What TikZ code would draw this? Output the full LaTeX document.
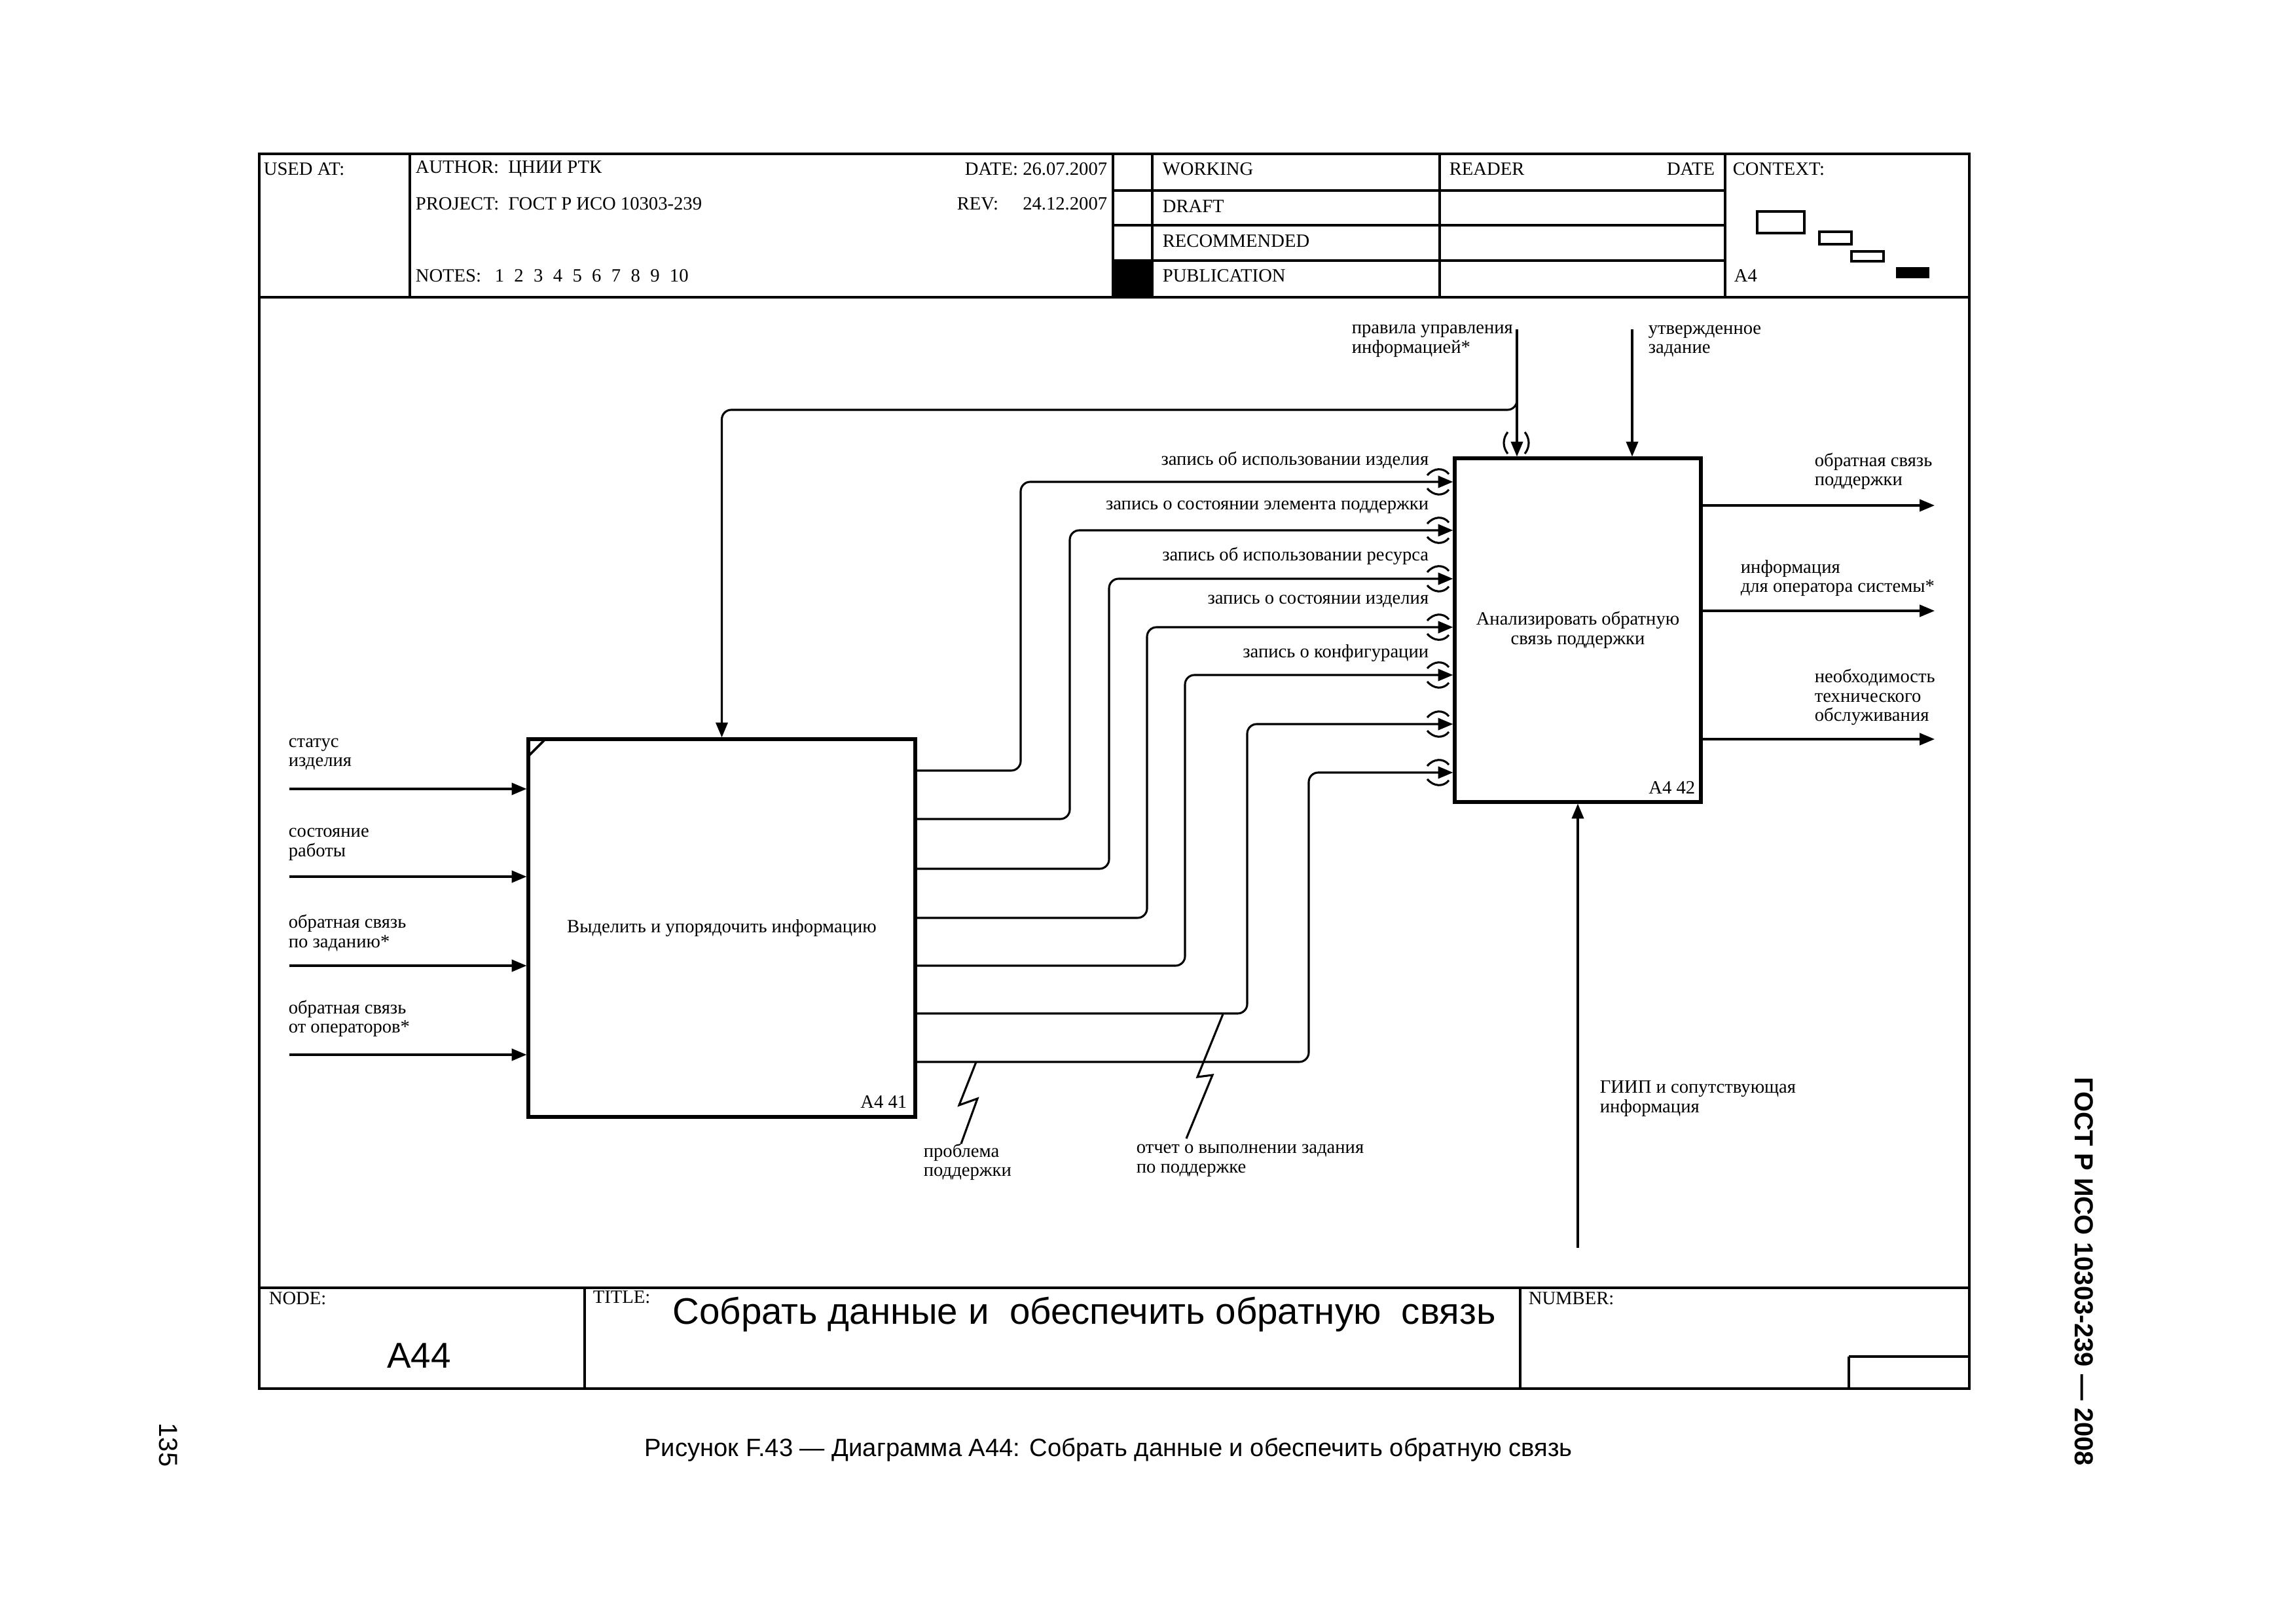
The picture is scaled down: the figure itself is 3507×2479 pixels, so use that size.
\documentclass[tikz,border=0pt]{standalone}
\usepackage{fontspec}
\setmainfont{Liberation Serif}
\setsansfont{Liberation Sans}
\usetikzlibrary{arrows.meta}
\newcommand\lblf{\fontsize{6.9}{7.1}\selectfont}
\newcommand\hdrf{\fontsize{6.9}{7}\selectfont}
\begin{document}
\begin{tikzpicture}[x=0.2409pt,y=-0.2409pt,
  frame/.style={line width=1.1pt},
  thinln/.style={line width=0.8pt},
  box/.style={draw,line width=1.25pt,inner sep=0pt,align=center,font=\lblf},
  arr/.style={line width=0.75pt,-{Triangle[length=5.5pt,width=4.4pt]},rounded corners=3.5pt},
  wire/.style={line width=0.75pt},
  tun/.style={line width=0.75pt},
  lbl/.style={inner sep=0pt,font=\lblf,align=left},
  hdr/.style={inner sep=0pt,font=\hdrf},
]
\useasboundingbox (0,0) rectangle (3507,2479);
% ---------- frame ----------
\draw[frame] (396,235) rectangle (3008,2121);
\draw[frame] (396,454) -- (3008,454);
\draw[frame] (396,1967) -- (3008,1967);
\draw[thinln] (626,235) -- (626,454);
\draw[thinln] (1700,235) -- (1700,454);
\draw[thinln] (1760,235) -- (1760,454);
\draw[thinln] (2199,235) -- (2199,454);
\draw[thinln] (2635,235) -- (2635,454);
\draw[thinln] (1700,291) -- (2635,291);
\draw[thinln] (1700,344) -- (2635,344);
\draw[thinln] (1700,398) -- (2635,398);
\fill (1700,398) rectangle (1760,454);
% header texts
\node[hdr,anchor=west] (usedat) at (402,258) {USED AT:};
\node[hdr,anchor=west] (author) at (634,258) {AUTHOR:\ \ ЦНИИ РТК};
\node[hdr,anchor=east] (date) at (1692,258) {DATE:\ 26.07.2007};
\node[hdr,anchor=west] (project) at (634,311) {PROJECT:\ \ ГОСТ Р ИСО 10303-239};
\node[hdr,anchor=west] (revl) at (1461,311) {REV:};
\node[hdr,anchor=east] (rev) at (1692,311) {24.12.2007};
\node[hdr,anchor=west] (notes) at (634,421) {NOTES:\hspace{5pt}1\hspace{3.7pt}2\hspace{3.7pt}3\hspace{3.7pt}4\hspace{3.7pt}5\hspace{3.7pt}6\hspace{3.7pt}7\hspace{3.7pt}8\hspace{3.7pt}9\hspace{3.7pt}10};
\node[hdr,anchor=west] (working) at (1775,258) {WORKING};
\node[hdr,anchor=west] (draft) at (1775,315) {DRAFT};
\node[hdr,anchor=west] (recom) at (1775,368) {RECOMMENDED};
\node[hdr,anchor=west] (publ) at (1775,421) {PUBLICATION};
\node[hdr,anchor=west] (reader) at (2213,258) {READER};
\node[hdr,anchor=east] (rdate) at (2620,258) {DATE};
\node[hdr,anchor=west] (context) at (2646,258) {CONTEXT:};
\node[hdr,anchor=west] (ctxa) at (2648,421) {A4};
\draw[thinln] (2684,323) rectangle (2756,356);
\draw[thinln] (2779,354) rectangle (2828,373);
\draw[thinln] (2828,384) rectangle (2877,399);
\fill (2896,408) rectangle (2947,425);
% ---------- footer ----------
\draw[thinln] (893,1967) -- (893,2121);
\draw[thinln] (2322,1967) -- (2322,2121);
\draw[frame] (2824,2072) -- (3008,2072);
\draw[thinln] (2824,2072) -- (2824,2121);
\node[hdr,anchor=west] (nodel) at (410,1983) {NODE:};
\node[hdr,anchor=west] (titlel) at (905,1981) {TITLE:};
\node[hdr,anchor=west] (numberl) at (2334,1983) {NUMBER:};
\node[inner sep=0pt,font=\sffamily\fontsize{13.2}{13}\selectfont] (nodeid) at (640,2071) {A44};
\node[inner sep=0pt,anchor=west,font=\sffamily\fontsize{13.6}{14}\selectfont] (title) at (1027,2008) {Собрать данные и\ \ обеспечить обратную\ \ связь};
% ---------- outside page text ----------
\node[inner sep=0pt,font=\sffamily\fontsize{9.2}{10}\selectfont] (caption) at (1693,2214) {Рисунок F.43 — Диаграмма А44: Собрать данные и обеспечить обратную связь};
\node[inner sep=0pt,rotate=-90,font=\sffamily\bfseries\fontsize{9.6}{10}\selectfont] (gost) at (3183,1942) {ГОСТ Р ИСО 10303-239 — 2008};
\node[inner sep=0pt,rotate=-90,font=\sffamily\fontsize{9.6}{10}\selectfont] (pageno) at (257,2207) {135};
% ---------- boxes ----------
\node[box,minimum width=142.37pt,minimum height=139.0pt] (b1) at (1102.5,1417.5) {Выделить и упорядочить информацию};
\node[box,minimum width=90.58pt,minimum height=126.47pt] (b2) at (2410,962.5) {Анализировать обратную\\связь поддержки};
\node[lbl,anchor=east] (b1id) at (1386,1683) {A4 41};
\node[lbl,anchor=east] (b2id) at (2590,1203) {A4 42};
\draw[line width=0.9pt] (807,1155) -- (831,1131);
% ---------- inputs of b1 ----------
\coordinate (i1) at (442,1205);
\coordinate (i2) at (442,1339);
\coordinate (i3) at (442,1475);
\coordinate (i4) at (442,1611);
\draw[arr] (i1) -- (i1 -| b1.west);
\draw[arr] (i2) -- (i2 -| b1.west);
\draw[arr] (i3) -- (i3 -| b1.west);
\draw[arr] (i4) -- (i4 -| b1.west);
\node[lbl,anchor=west] (li1) at (440,1152) {статус\\изделия};
\node[lbl,anchor=west] (li2) at (440,1290) {состояние\\работы};
\node[lbl,anchor=west] (li3) at (440,1425) {обратная связь\\по заданию*};
\node[lbl,anchor=west] (li4) at (440,1556) {обратная связь\\от операторов*};
% ---------- controls ----------
\coordinate (c1) at (2317,503);
\coordinate (c2) at (2493,503);
\draw[arr] (c1) -- (c1 |- b2.north);
\draw[arr] (c2) -- (c2 |- b2.north);
\draw[arr] (2317,590) -- (2317,626) -- (1102.5,626) -- (b1.north);
\node[lbl,anchor=west] (lc1) at (2064,521) {правила управления\\информацией*};
\node[lbl,anchor=west] (lc2) at (2517,521) {утвержденное\\задание};
\draw[tun] (2303,660) .. controls (2295,670) and (2295,683) .. (2303,693);
\draw[tun] (2329,660) .. controls (2337,670) and (2337,683) .. (2329,693);
% ---------- b1 -> b2 flows ----------
\draw[arr] (b1.east |- 0,1177) -- (1559,1177) -- (1559,736) -- (b2.west |- 0,736);
\draw[arr] (b1.east |- 0,1251) -- (1634,1251) -- (1634,810) -- (b2.west |- 0,810);
\draw[arr] (b1.east |- 0,1327) -- (1694,1327) -- (1694,884) -- (b2.west |- 0,884);
\draw[arr] (b1.east |- 0,1402) -- (1752,1402) -- (1752,958) -- (b2.west |- 0,958);
\draw[arr] (b1.east |- 0,1475) -- (1810,1475) -- (1810,1031) -- (b2.west |- 0,1031);
\draw[arr] (b1.east |- 0,1548) -- (1905,1548) -- (1905,1106) -- (b2.west |- 0,1106);
\draw[arr] (b1.east |- 0,1622) -- (1999,1622) -- (1999,1180) -- (b2.west |- 0,1180);
\foreach \yy in {736,810,884,958,1031,1106,1180}{
  \draw[tun] (2180,\yy-10) .. controls (2190,\yy-22) and (2205,\yy-22) .. (2213,\yy-12);
  \draw[tun] (2180,\yy+10) .. controls (2190,\yy+22) and (2205,\yy+22) .. (2213,\yy+12);
}
\node[lbl,anchor=east] (lf1) at (2183,703) {запись об использовании изделия};
\node[lbl,anchor=east] (lf2) at (2183,775) {запись о состоянии элемента поддержки};
\node[lbl,anchor=east] (lf3) at (2183,849) {запись об использовании ресурса};
\node[lbl,anchor=east] (lf4) at (2183,919) {запись о состоянии изделия};
\node[lbl,anchor=east] (lf5) at (2183,998) {запись о конфигурации};
% squiggles
\draw[wire] (1491,1622) -- (1465,1688) -- (1493,1678) -- (1468,1747);
\draw[wire] (1868,1549) -- (1829,1645) -- (1852,1642) -- (1812,1739);
\node[lbl,anchor=west] (lp1) at (1410,1775) {проблема\\поддержки};
\node[lbl,anchor=west] (lp2) at (1735,1773) {отчет о выполнении задания\\по поддержке};
% ---------- outputs of b2 ----------
\coordinate (o1) at (2955,772);
\coordinate (o2) at (2955,933);
\coordinate (o3) at (2955,1129);
\draw[arr] (o1 -| b2.east) -- (o1);
\draw[arr] (o2 -| b2.east) -- (o2);
\draw[arr] (o3 -| b2.east) -- (o3);
\node[lbl,anchor=west] (lo1) at (2771,720) {обратная связь\\поддержки};
\node[lbl,anchor=west] (lo2) at (2658,883) {информация\\для оператора системы*};
\node[lbl,anchor=west] (lo3) at (2771,1065) {необходимость\\технического\\обслуживания};
% ---------- mechanism ----------
\coordinate (m1) at (2410,1906);
\draw[arr] (m1) -- (b2.south);
\node[lbl,anchor=west] (lm1) at (2443,1678) {ГИИП и сопутствующая\\информация};
\end{tikzpicture}
\end{document}
